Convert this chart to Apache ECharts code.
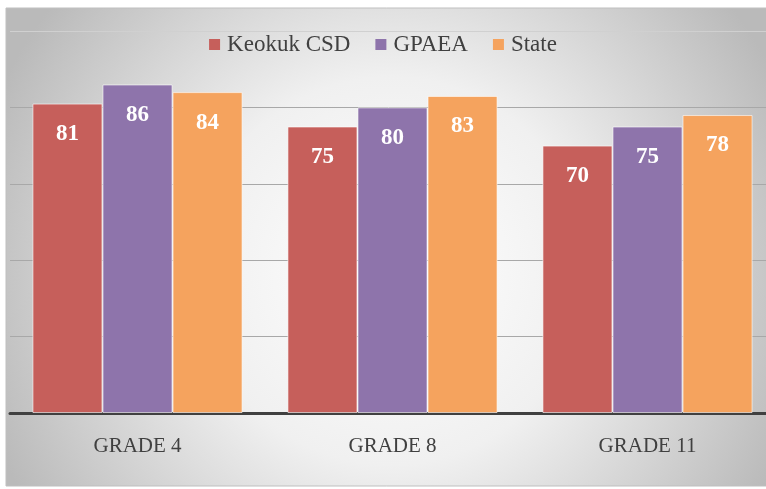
<!DOCTYPE html>
<html><head><meta charset="utf-8">
<script src="https://cdn.jsdelivr.net/npm/echarts@6/dist/echarts.min.js"></script>
<style>html,body{margin:0;padding:0;background:#fff}#c{width:766px;height:489px}</style>
</head><body><div id="c"></div>
<script>
const categories = ['GRADE 4', 'GRADE 8', 'GRADE 11'];
const keokuk = [81, 75, 70];
const gpaea = [86, 80, 75];
const state = [84, 83, 78];
const seriesNames = ['Keokuk CSD', 'GPAEA', 'State'];
const colors = ['#c65f5b', '#8e74ab', '#f5a35e'];

const chart = echarts.init(document.getElementById('c'), null, {renderer: 'canvas'});
const labelCfg = {show: true, position: 'insideTop', distance: 19, color: '#fff', fontFamily: 'Liberation Serif', fontWeight: 'bold', fontSize: 23};
function bar(name, data, color) {
  return {name, type: 'bar', data, barGap: '0%', barCategoryGap: '17.6%',
    itemStyle: {color, borderColor: 'rgba(255,255,255,0.6)', borderWidth: 1},
    label: labelCfg};
}
// custom legend (serif text)
const legendFont = '23px "Liberation Serif", serif';
const legendChildren = [];
let lx = 0;
seriesNames.forEach((n, i) => {
  legendChildren.push({type: 'rect', shape: {x: lx, y: -5.5, width: 11, height: 11}, style: {fill: colors[i]}});
  legendChildren.push({type: 'text', x: lx + 18, y: 0, style: {text: n, font: legendFont, fill: '#404040', verticalAlign: 'middle', textAlign: 'left'}});
  const w = echarts.format.getTextRect ? echarts.format.getTextRect(n, legendFont).width : n.length * 11;
  lx += 18 + w + 25;
});
chart.setOption({
  backgroundColor: '#fff',
  animation: false,
  graphic: [{
    type: 'rect', z: -10, silent: true,
    shape: {x: 6, y: 8, width: 770, height: 478},
    style: {fill: {type: 'radial', x: 0.5, y: 0.55, r: 0.9, colorStops: [{offset: 0, color: '#ffffff'}, {offset: 0.45, color: '#f0f0f0'}, {offset: 1, color: '#bababa'}]}, stroke: '#bfbfbf', lineWidth: 1}
  }, {
    type: 'group', left: 'center', top: 33, z: 10, silent: true,
    children: legendChildren
  }],
  legend: {show: false, data: seriesNames},
  grid: {left: 10, top: 31, width: 765, bottom: 76, outerBoundsMode: 'none'},
  xAxis: {
    type: 'category', data: categories,
    axisLine: {lineStyle: {color: '#404040', width: 3}},
    axisTick: {show: false},
    axisLabel: {fontFamily: 'Liberation Serif', fontSize: 21, color: '#404040', margin: 23}
  },
  yAxis: {
    type: 'value', min: 0, max: 100, interval: 20,
    axisLabel: {show: false}, axisLine: {show: false}, axisTick: {show: false},
    splitLine: {lineStyle: {color: ['#a8a8a8', '#a8a8a8', '#a8a8a8', '#a8a8a8', '#a8a8a8', '#d0d0d0'], width: 1}}
  },
  series: [
    bar(seriesNames[0], keokuk, colors[0]),
    bar(seriesNames[1], gpaea, colors[1]),
    bar(seriesNames[2], state, colors[2])
  ]
});
</script></body></html>
